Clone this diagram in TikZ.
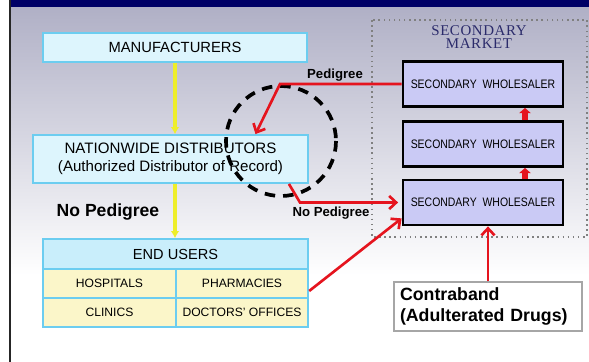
\documentclass[tikz,border=0pt]{standalone}
\usepackage{fontspec}
\setmainfont{Liberation Sans}
\newfontfamily\titlefont[LetterSpace=4]{Liberation Serif}
\newfontfamily\narrowfont[FakeStretch=0.85]{Liberation Sans}
\usetikzlibrary{arrows.meta}
\definecolor{barnavy}{HTML}{000066}
\definecolor{bgtop}{HTML}{B0B0C6}
\definecolor{boxcyan}{HTML}{DDF5FD}
\definecolor{hdrcyan}{HTML}{C9EEFB}
\definecolor{cyanline}{HTML}{6CCDF0}
\definecolor{cellyellow}{HTML}{FBF6C9}
\definecolor{wsfill}{HTML}{CACAF5}
\definecolor{redline}{HTML}{E5141E}
\definecolor{flowyellow}{HTML}{EEEE2A}
\definecolor{titleblue}{HTML}{2B2B6B}
\begin{document}
\begin{tikzpicture}[x=0.02cm, y=-0.02cm,
  cyanbox/.style={draw=cyanline, line width=1.1pt, fill=boxcyan, inner sep=0pt},
  cell/.style={draw=cyanline, line width=1.1pt, fill=cellyellow, inner sep=0pt,
    minimum width=2.65cm, minimum height=0.58cm, font=\fontsize{6.9}{8}\selectfont},
  wholesaler/.style={draw=black, line width=1.6pt, fill=wsfill, minimum width=3.2cm,
    minimum height=0.9cm, font=\narrowfont\fontsize{7}{8}\selectfont},
  yellowflow/.style={draw=flowyellow, line width=2.2pt, -{Latex[length=4pt,width=5pt]}},
  redflow/.style={draw=redline, line width=1.5pt, -{Straight Barb[length=4pt,width=7.5pt]}},
  redup/.style={draw=redline, line width=3pt, -{Triangle[length=3pt,width=6.5pt]}},
  flowlabel/.style={font=\fontsize{7.5}{9}\selectfont\bfseries, inner sep=0pt}]
  \useasboundingbox (0,0) rectangle (589,362);
  \fill[white] (0,0) rectangle (589,362);
  \shade[top color=bgtop, bottom color=white] (11,7) rectangle (589,275);
  \fill[barnavy] (10,0) rectangle (589,7);
  \draw[line width=1.1pt, black!85] (10,0) -- (10,362);

  % secondary market
  \draw[gray, dotted, line width=0.9pt] (372,20) rectangle (587,237);
  \node[text=titleblue, align=center, font=\titlefont\fontsize{8.5}{7.4}\selectfont, inner sep=0pt]
    (market) at (479,37) {SECONDARY\\MARKET};
  \node[wholesaler] (w1) at (483,84) {SECONDARY\ \ WHOLESALER};
  \node[wholesaler] (w2) at (483,144) {SECONDARY\ \ WHOLESALER};
  \node[wholesaler] (w3) at (483,202.5) {SECONDARY\ \ WHOLESALER};

  % supply chain
  \node[cyanbox, minimum width=5.28cm, minimum height=0.58cm, font=\fontsize{8.4}{10}\selectfont]
    (mfr) at (175,47.5) {MANUFACTURERS};
  \node[cyanbox, minimum width=5.5cm, minimum height=0.96cm, align=center,
    font=\fontsize{8.6}{10.2}\selectfont]
    (nat) at (170.5,159) {NATIONWIDE DISTRIBUTORS\\(Authorized Distributor of Record)};
  \node[cyanbox, fill=hdrcyan, minimum width=5.3cm, minimum height=0.6cm,
    font=\fontsize{8.3}{10}\selectfont] (eu) at (175.5,254) {END USERS};
  \node[cell] (hosp) at (109.5,283.5) {HOSPITALS};
  \node[cell] (pharm) at (242,283.5) {PHARMACIES};
  \node[cell] (clin) at (109.5,312.5) {CLINICS};
  \node[cell] (doc) at (242,312.5) {DOCTORS' OFFICES};
  \node[font=\fontsize{10}{12}\selectfont\bfseries, inner sep=0pt] (noped) at (108,212) {No Pedigree};

  \node[draw=gray!70, line width=0.8pt, fill=white, minimum width=3.76cm, minimum height=0.98cm,
    text width=3.52cm, align=left, font=\fontsize{10.1}{11.5}\selectfont\bfseries]
    (ctb) at (488,306.5) {Contraband\\(Adulterated Drugs)};

  \draw[yellowflow] (mfr) -- (mfr |- nat.north);
  \draw[yellowflow] (nat.south -| mfr) -- (eu.north -| mfr);

  % dashed ring round the distributor
  \draw[black, line width=2.1pt, dash pattern=on 6pt off 4.5pt] (281,141) circle (55);

  % red flows
  \coordinate (pedcorner) at (280,84);
  \coordinate (nopedcorner) at (300,202.5);
  \draw[redflow] (w1.west) -- (pedcorner) -- ([xshift=1.7cm]nat.north);
  \node[flowlabel] (ped) at (335,75) {Pedigree};
  \draw[redflow, shorten >=2pt] ([xshift=-0.4cm]nat.south east) -- (nopedcorner) -- (w3.west);
  \node[flowlabel] (nopedlab) at (331,213) {No Pedigree};
  \draw[redflow] ([yshift=0.16cm]pharm.south east) -- ([yshift=0.16cm]w3.south west);
  \draw[redflow] (ctb.north) -- (ctb.north |- w3.south);
  \draw[redup] ([xshift=0.84cm]w3.north) -- ([xshift=0.84cm]w2.south);
  \draw[redup] ([xshift=0.84cm]w2.north) -- ([xshift=0.84cm]w1.south);
\end{tikzpicture}
\end{document}
